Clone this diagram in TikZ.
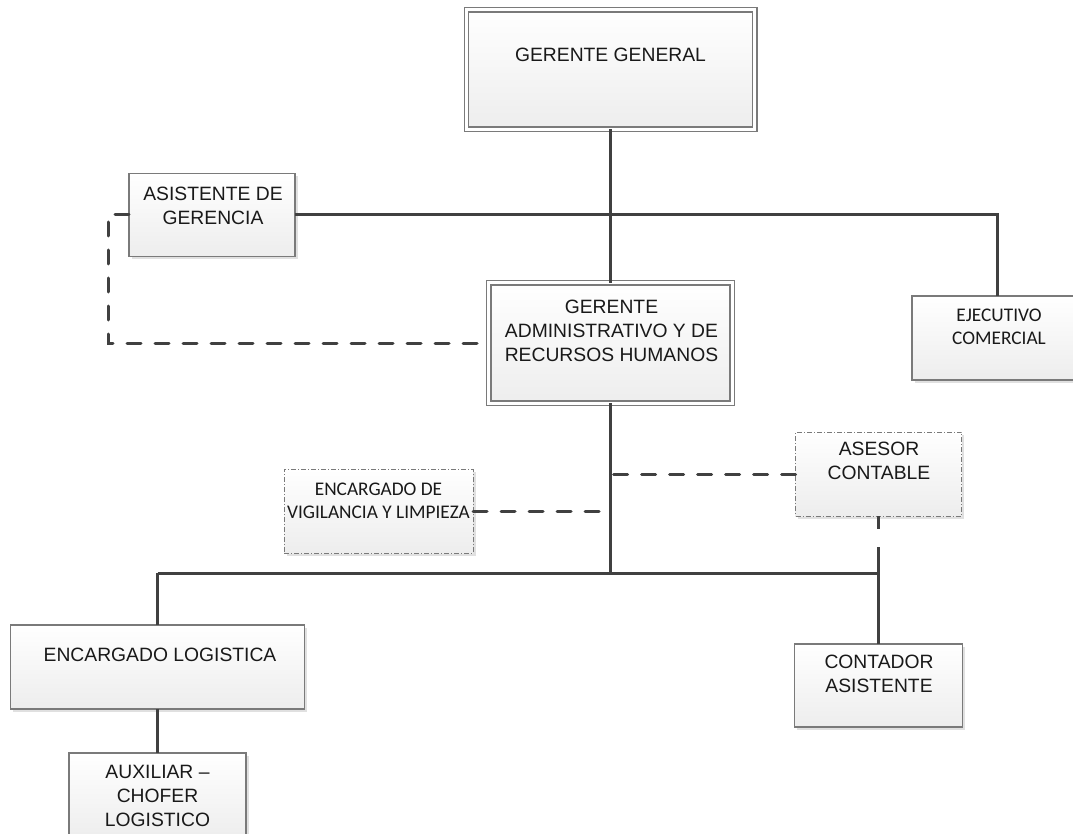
\documentclass[tikz,border=0pt]{standalone}
\usepackage{fontspec}
\setmainfont{Liberation Sans}
\newfontfamily\calib{Carlito}
\usetikzlibrary{shadows}
\definecolor{linkc}{HTML}{404040}
\definecolor{edgec}{HTML}{7A7A7A}
\definecolor{fillbot}{HTML}{EDEDED}
\tikzset{
  unitbox/.style={rectangle, inner sep=0pt, outer sep=0pt,
    top color=white, bottom color=fillbot,
    drop shadow={shadow xshift=2.5pt, shadow yshift=-2.5pt, fill=black, opacity=0.12}},
  plainbox/.style={unitbox, draw=edgec, line width=1.1pt},
  doublebox/.style={unitbox, draw=edgec, line width=1.2pt, double=white, double distance=3.2pt},
  dotbox/.style={unitbox, draw=edgec, line width=0.9pt, dash pattern=on 5pt off 2pt on 1pt off 2pt},
  txt/.style={inner sep=0pt, anchor=north, align=center, text=black!90,
    font=\fontsize{19.3}{24}\selectfont},
  ctxt/.style={txt, font=\calib\fontsize{19.3}{23}\selectfont},
  link/.style={draw=linkc, line width=3pt},
  dlink/.style={draw=linkc, line width=3pt, line cap=round, dash pattern=on 14pt off 14pt},
}
\begin{document}
\begin{tikzpicture}[x=1pt, y=-1pt]
\useasboundingbox (0,0) rectangle (1073,834);

% boxes
\node[doublebox, minimum width=288.4pt, minimum height=119.4pt] (gg) at (610.5,69.5) {};
\node[doublebox, minimum width=243.4pt, minimum height=120.4pt] (ga) at (610.5,343) {};
\node[plainbox, minimum width=166pt, minimum height=83pt] (asis) at (212,215) {};
\node[plainbox, minimum width=170pt, minimum height=84pt] (ejec) at (997,338) {};
\node[dotbox, minimum width=166pt, minimum height=84pt] (ases) at (878.5,474) {};
\node[dotbox, minimum width=189pt, minimum height=84pt] (vig) at (378.5,511) {};
\node[plainbox, minimum width=294pt, minimum height=84pt] (elog) at (157.5,667) {};
\node[plainbox, minimum width=168pt, minimum height=83pt] (cont) at (878.5,685.5) {};
\node[plainbox, minimum width=177pt, minimum height=86pt] (aux) at (157.5,796) {};

% box texts
\node[txt] (ggt) at (610.5,48) {GERENTE GENERAL};
\node[txt] (gat) at (611.5,300) {GERENTE\\ADMINISTRATIVO Y DE\\RECURSOS HUMANOS};
\node[txt] (asist) at (213,187) {ASISTENTE DE\\GERENCIA};
\node[ctxt] (eject) at (999,309) {EJECUTIVO\\COMERCIAL};
\node[txt] (asest) at (879,442) {ASESOR\\CONTABLE};
\node[ctxt] (vigt) at (378.5,483) {ENCARGADO DE\\VIGILANCIA Y LIMPIEZA};
\node[txt] (elogt) at (160,648) {ENCARGADO LOGISTICA};
\node[txt] (contt) at (879,655) {CONTADOR\\ASISTENTE};
\node[txt] (auxt) at (157.5,765) {AUXILIAR --\\CHOFER\\LOGISTICO};

% solid reporting lines
\coordinate (j) at (ga.south |- 0,573);
\coordinate (jl) at (elog.north |- j);
\coordinate (jc) at (cont.north |- j);
\draw[link] (gg.south) -- (ga.north);
\draw[link] (asis.east) -- (ejec.north |- asis.east) -- (ejec.north);
\draw[link] (ga.south) -- (j);
\draw[link] (jl) -- (jc);
\draw[link] (jl) -- (elog.north);
\draw[link] (cont.north) -- ([yshift=26pt]jc);
\draw[link] (elog.south) -- (aux.north);

% advisory (dashed) lines
\draw[dlink] (asis.west) -- ++(-21,0) |- (ga.west);
\draw[dlink] ([xshift=3pt]ga.south |- ases.west) -- (ases.west);
\draw[dlink] (vig.east) -- ([xshift=-3pt]ga.south |- vig.east);
\draw[draw=linkc, line width=3pt] (ases.south) -- ++(0,13);
\end{tikzpicture}
\end{document}
